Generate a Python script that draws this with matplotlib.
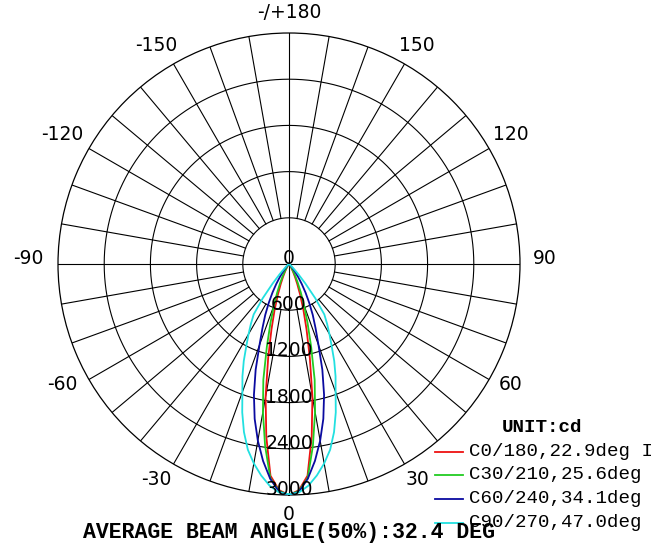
import numpy as np
import matplotlib
matplotlib.use("Agg")
import matplotlib.pyplot as plt
from matplotlib.lines import Line2D

# ---------------- data ----------------
angles_deg = [0, 2.5, 5, 7.5, 10, 12.5, 15, 17.5, 20, 22.5, 25, 27.5, 30,
              32.5, 35, 37.5, 40, 42.5, 45, 50, 55, 60]
c0_180 = [3000, 2940, 2760, 2260, 1750, 1250, 880, 620, 420, 280, 180, 115, 70,
          45, 25, 15, 10, 5, 0, 0, 0, 0]
c30_210 = [3000, 2950, 2790, 2380, 1950, 1540, 1110, 800, 570, 400, 270, 180, 110,
           70, 40, 25, 15, 8, 0, 0, 0, 0]
c60_240 = [3000, 2960, 2800, 2580, 2330, 2060, 1760, 1440, 1120, 900, 730, 570, 430,
           310, 210, 140, 85, 50, 25, 5, 0, 0]
c90_270 = [2990, 2970, 2890, 2770, 2630, 2470, 2260, 2020, 1770, 1580, 1390, 1200, 1050,
           920, 800, 560, 330, 180, 90, 30, 10, 0]

series_labels = ["C0/180,22.9deg I", "C30/210,25.6deg", "C60/240,34.1deg", "C90/270,47.0deg"]
series_values = [c0_180, c30_210, c60_240, c90_270]
series_colors = ["#ee1111", "#22cc22", "#0a0aa0", "#22e0e0"]

radial_ticks = [0, 600, 1200, 1800, 2400, 3000]
angle_ticks = [0, 30, 60, 90, 120, 150, 180, -150, -120, -90, -60, -30]
angle_labels = ["0", "30", "60", "90", "120", "150", "-/+180",
                "-150", "-120", "-90", "-60", "-30"]
unit_text = "UNIT:cd"
footer_text = "AVERAGE BEAM ANGLE(50%):32.4 DEG"

# ---------------- figure ----------------
W, H = 651, 543
fig = plt.figure(figsize=(W / 100, H / 100), dpi=100)
cx, cy, R = 289, 264, 231
ax = fig.add_axes([(cx - R) / W, (H - (cy + R)) / H, 2 * R / W, 2 * R / H],
                  projection="polar")
ax.set_theta_zero_location("S")
ax.set_theta_direction(1)
ax.set_ylim(0, 3000)
ax.set_xticks([])
ax.set_yticks([])
ax.grid(False)
ax.spines["polar"].set_color("black")
ax.spines["polar"].set_linewidth(0.9)

# grid circles
tt = np.linspace(0, 2 * np.pi, 721)
for r in radial_ticks[1:-1]:
    ax.plot(tt, np.full_like(tt, r), color="black", lw=0.8, zorder=1)
# radial lines
for a in range(0, 360, 10):
    r0 = 0 if a % 90 == 0 else radial_ticks[1]
    ax.plot([np.deg2rad(a)] * 2, [r0, radial_ticks[-1]], color="black", lw=0.8, zorder=1)

# curves
ang = np.array(angles_deg, dtype=float)
for vals, col in zip(series_values, series_colors):
    v = np.array(vals, dtype=float)
    th = np.concatenate([-ang[::-1], ang[1:]])
    rr = np.concatenate([v[::-1], v[1:]])
    ax.plot(np.deg2rad(th), rr, color=col, lw=1.3, zorder=3)

# radial labels
for r in radial_ticks:
    ax.text(0, r, str(r), ha="center", va="baseline", fontsize=13.5,
            family="DejaVu Sans", color="black", zorder=5)

# angle labels
for a, lab in zip(angle_ticks, angle_labels):
    t = np.deg2rad(a)
    dx = 256 * np.sin(t)
    dy = -251 * np.cos(t) + 6 * np.sin(t) ** 2
    if lab.startswith("-") and not lab.startswith("-/"):
        dx -= 5
    ax.annotate(lab, xy=(0, 0), xycoords="data", xytext=(dx, dy),
                textcoords="offset pixels", ha="center", va="center",
                fontsize=13.5, family="DejaVu Sans", color="black",
                annotation_clip=False)

# legend
mono = "Liberation Mono"
fig.text(502 / W, 1 - 432.5 / H, unit_text, ha="left", va="baseline",
         family=mono, fontweight="bold", fontsize=13.8)
for i, (lab, col) in enumerate(zip(series_labels, series_colors)):
    yc = 450 + 23.7 * i
    fig.add_artist(Line2D([435 / W, 463 / W], [1 - (yc + 1.5) / H] * 2,
                          color=col, lw=1.3))
    fig.text(469 / W, 1 - (yc + 5.5) / H, lab, ha="left", va="baseline",
             family=mono, fontsize=13.8)

fig.text(83 / W, 1 - 538 / H, footer_text, ha="left", va="baseline",
         family=mono, fontweight="bold", fontsize=15.5)

fig.savefig("out.png", dpi=100)
